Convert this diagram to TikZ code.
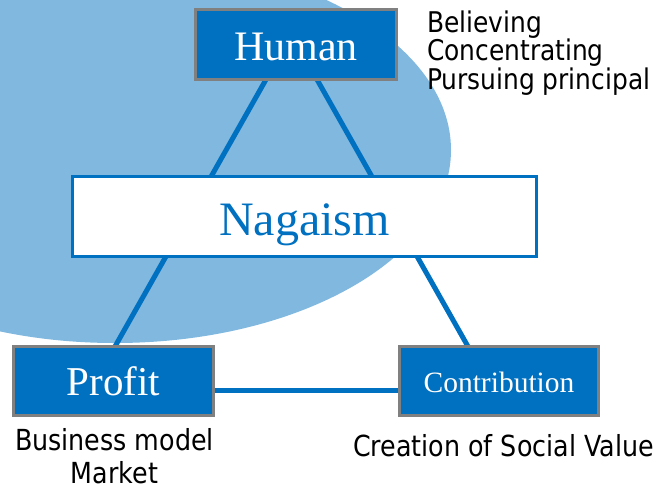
\documentclass[tikz,border=0pt]{standalone}
\usepackage{fontspec}
\setmainfont{Liberation Serif}
\newfontfamily\notefont[FakeStretch=0.874]{DejaVu Sans}
\definecolor{navy}{HTML}{0070C0}
\definecolor{rim}{HTML}{808080}
\colorlet{halo}{navy!50!white}

\pgfdeclarelayer{back}
\pgfdeclarelayer{links}
\pgfsetlayers{back,links,main}

\begin{document}
\begin{tikzpicture}[x=1pt,y=-1pt,
  box/.style={rectangle, draw=rim, line width=3pt, fill=navy, text=white,
              inner sep=0pt, outer sep=0pt, text depth=0pt},
  core/.style={rectangle, draw=navy, line width=3pt, fill=white, text=navy,
               inner sep=0pt, outer sep=0pt, text depth=0pt},
  link/.style={draw=navy, line width=5pt},
  note/.style={inner sep=0pt, outer sep=0pt, text=black}]
\useasboundingbox (0,0) rectangle (660,491);

% the four boxes of the triangle
\node[box, minimum width=201pt, minimum height=70pt, text height=31pt,
      font=\fontsize{42pt}{50pt}\selectfont] (human) at (296,44.5) {Human};
\node[core, minimum width=464pt, minimum height=80pt, text height=37pt,
      font=\fontsize{48pt}{56pt}\selectfont] (naga) at (304.5,216.5) {Nagaism};
\node[box, minimum width=200pt, minimum height=69pt, text height=28pt,
      font=\fontsize{41pt}{48pt}\selectfont] (profit) at (113.5,381) {Profit};
\node[box, minimum width=199pt, minimum height=69pt, text height=22pt,
      font=\fontsize{29.5pt}{35pt}\selectfont] (contrib) at (499,381) {Contribution};

% side notes
\node[note, anchor=base west, font=\notefont\fontsize{28.5pt}{26pt}\selectfont] (traits) at (427,32)
  {\parbox[t]{240pt}{\raggedright Believing\\Concentrating\\Pursuing principal}};
\node[note, anchor=base, font=\notefont\fontsize{29pt}{33pt}\selectfont] (market) at (114.5,450)
  {\parbox[t]{220pt}{\centering Business model\\Market}};
\node[note, anchor=base, font=\notefont\fontsize{29pt}{35pt}\selectfont] (social) at (503.5,456)
  {Creation of Social Value};

% connectors, behind the boxes
\begin{pgfonlayer}{links}
  \draw[link] ([xshift=-30pt]human.south) -- ([xshift=1.5pt]profit.north);
  \draw[link] ([xshift=21pt]human.south) -- ([xshift=-31pt]contrib.north);
  \draw[link] ([yshift=-9.5pt]profit.east) -- ([yshift=-9.5pt]contrib.west);
\end{pgfonlayer}

% pale backdrop ellipse
\begin{pgfonlayer}{back}
  \begin{scope}
    \clip (0,0) rectangle (660,491);
    \fill[halo] (115,150) ellipse [x radius=336pt, y radius=193pt];
  \end{scope}
\end{pgfonlayer}
\end{tikzpicture}
\end{document}
